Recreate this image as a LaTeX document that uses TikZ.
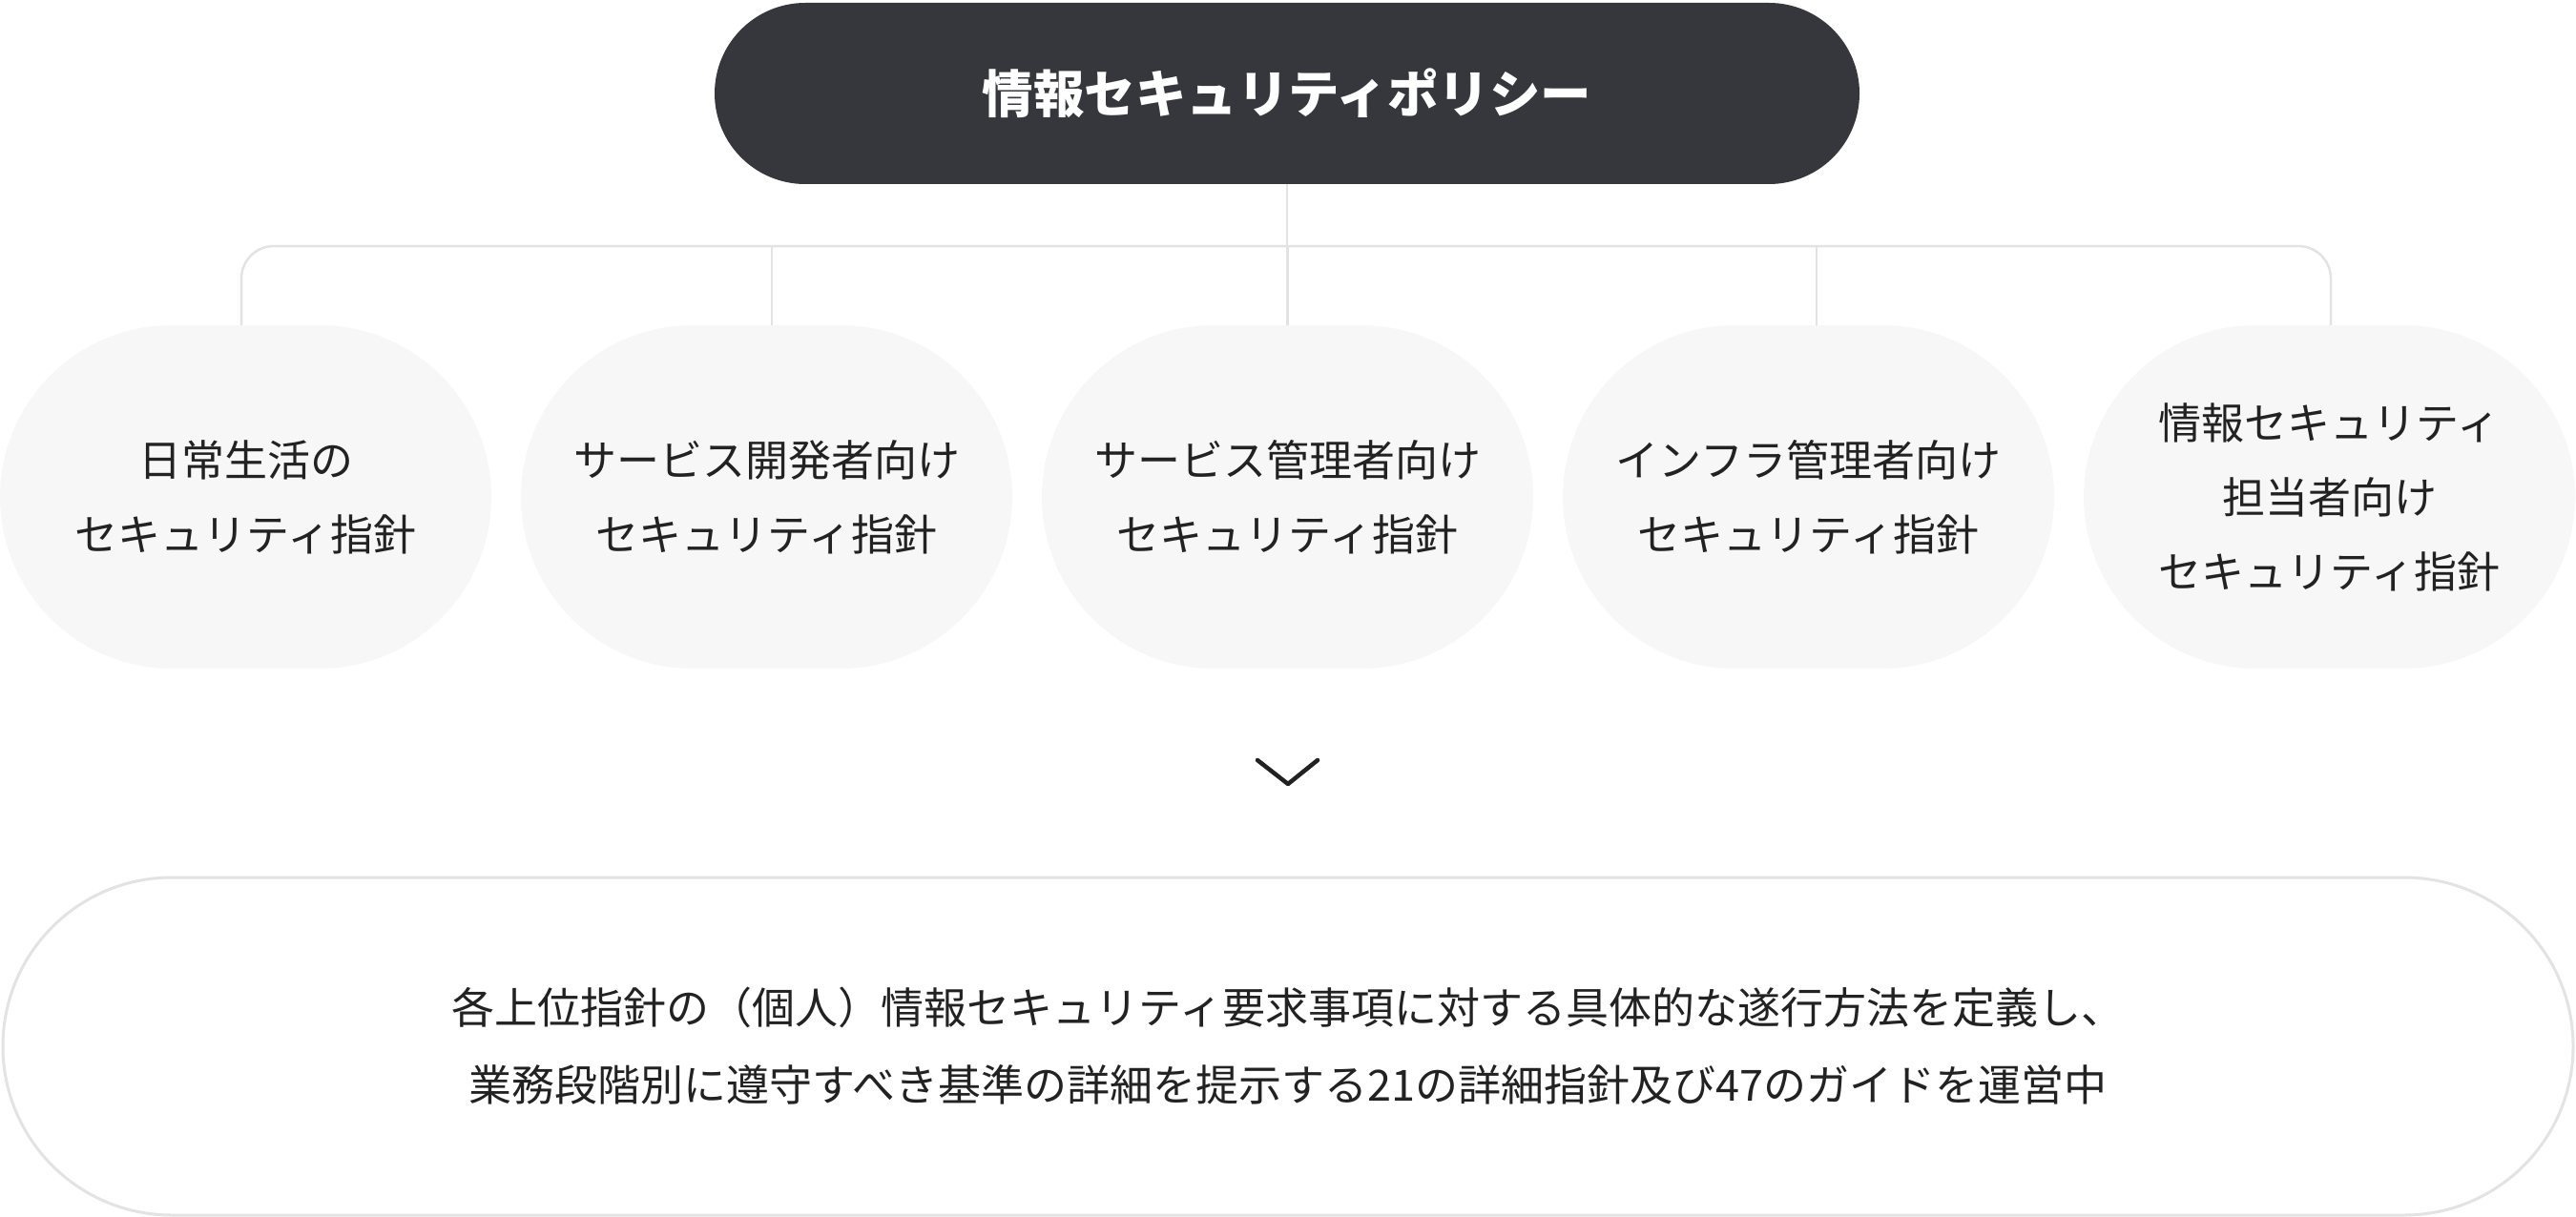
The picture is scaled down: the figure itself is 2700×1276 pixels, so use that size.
\documentclass[tikz,border=0pt]{standalone}
\usepackage{fontspec}
\setmainfont{Noto Sans CJK JP}
\definecolor{topfill}{HTML}{36373C}
\definecolor{childfill}{HTML}{F7F7F7}
\definecolor{linegray}{HTML}{E3E3E3}
\definecolor{txt}{HTML}{222222}
\tikzset{
  topbox/.style={draw=none, fill=topfill, text=white, minimum width=1200pt, minimum height=190pt,
    rounded corners=95pt, inner sep=0pt, align=center, font=\fontsize{53.5}{64}\selectfont\bfseries},
  childbox/.style={draw=none, fill=childfill, text=txt, minimum width=515pt, minimum height=360pt,
    rounded corners=180pt, inner sep=0pt, align=center, font=\fontsize{45}{78}\selectfont},
  descbox/.style={draw=linegray, line width=3pt, fill=white, text=txt, minimum width=2694pt, minimum height=354pt,
    rounded corners=177pt, inner sep=0pt, align=center, font=\fontsize{45}{81}\selectfont},
  conn/.style={draw=linegray, line width=2.5pt},
  chevron/.style={draw=txt, line width=4.5pt, line cap=round, line join=round}
}
\begin{document}
\begin{tikzpicture}[x=1pt, y=-1pt]
\useasboundingbox (0,0) rectangle (2700,1276);
\node[topbox] (top) at (1349,98) {情報セキュリティポリシー};
\node[childbox] (c1) at (257.5,521) {日常生活の\\セキュリティ指針};
\node[childbox] (c2) at (803.5,521) {サービス開発者向け\\セキュリティ指針};
\node[childbox] (c3) at (1349.5,521) {サービス管理者向け\\セキュリティ指針};
\node[childbox] (c4) at (1895.5,521) {インフラ管理者向け\\セキュリティ指針};
\node[childbox] (c5) at (2441.5,521) {情報セキュリティ\\担当者向け\\セキュリティ指針};
\coordinate (bus) at (1349,258);
\draw[conn] (top.south) -- (top.south |- bus);
\draw[conn, rounded corners=34pt] ([xshift=-4.5pt]c1.north) -- ([xshift=-4.5pt]c1.north |- bus) -- ([xshift=1.5pt]c5.north |- bus) -- ([xshift=1.5pt]c5.north);
\draw[conn] ([xshift=5.5pt]c2.north) -- ([xshift=5.5pt]c2.north |- bus);
\draw[conn] (c3.north) -- (c3.north |- bus);
\draw[conn] ([xshift=8.5pt]c4.north) -- ([xshift=8.5pt]c4.north |- bus);
\coordinate (chl) at (1318,797);
\coordinate (chm) at (1350,822);
\coordinate (chr) at (1381,797);
\draw[chevron] (chl) -- (chm) -- (chr);
\node[descbox] (desc) at (1350,1097) {各上位指針の（個人）情報セキュリティ要求事項に対する具体的な遂行方法を定義し、\\業務段階別に遵守すべき基準の詳細を提示する21の詳細指針及び47のガイドを運営中};
\end{tikzpicture}
\end{document}
